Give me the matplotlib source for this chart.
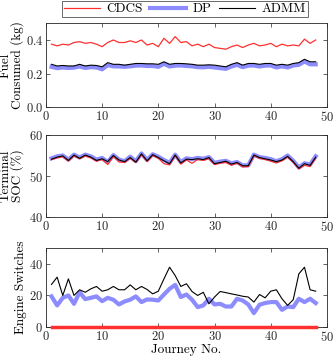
import matplotlib
matplotlib.use("Agg")
import matplotlib.pyplot as plt
import numpy as np

plt.rcParams['font.family'] = ['cmr10', 'DejaVu Serif']
plt.rcParams['mathtext.fontset'] = 'cm'
plt.rcParams['axes.formatter.use_mathtext'] = True
plt.rcParams['axes.unicode_minus'] = False

# journey numbers
journeys = np.arange(1, 49)

# fuel consumed (kg)
fuel_cdcs = [0.375, 0.365, 0.375, 0.37, 0.385, 0.39, 0.38, 0.385, 0.375, 0.36,
             0.385, 0.40, 0.385, 0.385, 0.395, 0.385, 0.40, 0.37, 0.38, 0.36,
             0.41, 0.38, 0.42, 0.385, 0.39, 0.365, 0.375, 0.36, 0.375, 0.355,
             0.35, 0.345, 0.36, 0.37, 0.355, 0.37, 0.38, 0.365, 0.37, 0.38,
             0.36, 0.375, 0.365, 0.37, 0.365, 0.405, 0.38, 0.40]
fuel_admm = [0.255, 0.245, 0.248, 0.245, 0.245, 0.255, 0.245, 0.25, 0.248, 0.24,
             0.265, 0.255, 0.255, 0.25, 0.255, 0.26, 0.26, 0.258, 0.258, 0.255,
             0.27, 0.255, 0.26, 0.26, 0.258, 0.255, 0.25, 0.25, 0.252, 0.25,
             0.245, 0.24, 0.255, 0.265, 0.25, 0.26, 0.26, 0.255, 0.26, 0.26,
             0.25, 0.255, 0.25, 0.26, 0.265, 0.285, 0.27, 0.27]
fuel_dp = [0.24, 0.232, 0.236, 0.233, 0.235, 0.242, 0.233, 0.238, 0.236, 0.225,
           0.25, 0.243, 0.242, 0.24, 0.243, 0.247, 0.248, 0.245, 0.245, 0.24,
           0.258, 0.242, 0.247, 0.248, 0.245, 0.243, 0.238, 0.237, 0.24, 0.236,
           0.232, 0.228, 0.242, 0.252, 0.238, 0.247, 0.248, 0.242, 0.247, 0.248,
           0.236, 0.243, 0.236, 0.248, 0.252, 0.272, 0.255, 0.255]

# terminal SOC (%)
soc_admm = [54.1, 54.6, 54.9, 53.8, 55.1, 54.3, 55.1, 54.6, 53.8, 54.2,
            53.5, 55.0, 53.9, 53.5, 54.5, 53.4, 55.4, 53.7, 55.2, 54.5,
            53.7, 53.0, 55.1, 53.2, 54.1, 54.0, 54.2, 54.0, 54.5, 53.0,
            53.3, 53.6, 52.9, 53.3, 52.5, 52.5, 55.1, 54.5, 54.2, 53.9,
            53.5, 53.9, 54.8, 53.5, 51.9, 53.0, 52.6, 54.6]
soc_cdcs = [54.0, 54.4, 54.7, 53.6, 54.9, 54.2, 54.9, 54.4, 53.6, 54.0,
            52.8, 54.8, 53.4, 53.3, 54.3, 53.3, 55.2, 53.5, 55.0, 54.3,
            53.0, 52.7, 55.0, 52.9, 53.9, 53.1, 54.0, 53.8, 54.2, 52.8,
            53.1, 53.3, 52.6, 53.1, 52.2, 52.3, 54.9, 54.3, 54.0, 53.6,
            53.2, 53.7, 54.6, 53.3, 51.7, 52.6, 52.3, 54.4]
soc_dp = [54.3, 54.8, 55.0, 54.0, 55.2, 54.5, 55.2, 54.8, 54.0, 54.4,
          53.4, 55.1, 54.0, 53.6, 54.7, 53.6, 55.5, 53.9, 55.3, 54.7,
          53.9, 53.2, 55.2, 53.4, 54.3, 54.1, 54.4, 54.2, 54.6, 53.2,
          53.5, 53.7, 53.1, 53.4, 52.6, 52.6, 55.2, 54.6, 54.4, 54.1,
          53.6, 54.1, 55.0, 53.7, 52.1, 53.1, 52.8, 54.8]

# engine switches
sw_cdcs = [0] * 48
sw_admm = [27, 31.6, 20, 30.5, 20, 23.6, 22, 24.2, 25.7, 22.7,
           23.6, 25.7, 23.6, 23.6, 26.7, 23.6, 25.7, 23.8, 21, 22.7,
           30.5, 37.9, 32.6, 25.7, 27.4, 22.5, 20, 22, 14.7, 19,
           22.5, 21.8, 21, 20.3, 19.5, 19, 15.8, 20.6, 18.5, 22.7,
           23.6, 17.9, 13.7, 17.3, 33.7, 37.9, 23.6, 22.7]
sw_dp = [19.4, 13.7, 18.5, 20, 14.7, 22, 17.7, 18.5, 19.4, 16.4,
         18.5, 17.3, 14.3, 16.2, 17.3, 19.4, 15.8, 17.5, 17.3, 16.8,
         20.6, 24.2, 26.7, 19, 20.6, 17.3, 12.6, 13.7, 17.9, 14.3,
         14.7, 13, 13, 17.9, 16.8, 14.3, 8.8, 14.1, 15.2, 15.8,
         15.8, 10.9, 13, 12.6, 17.9, 15.8, 17.9, 15.2]

red = '#ff3030'
blue = '#8c8cff'
fs = 9

fig = plt.figure(figsize=(3.35, 3.57), dpi=100)
ax1 = fig.add_axes([0.137, 0.700, 0.839, 0.235])
ax2 = fig.add_axes([0.137, 0.392, 0.839, 0.230])
ax3 = fig.add_axes([0.137, 0.084, 0.839, 0.221])

panels = [
    (ax1, fuel_cdcs, fuel_dp, fuel_admm, (0, 0.5), [0, 0.2, 0.4],
     'Fuel\nConsumed (kg)', -0.077),
    (ax2, soc_cdcs, soc_dp, soc_admm, (40, 60), [40, 50, 60],
     'Terminal\nSOC (%)', -0.077),
    (ax3, sw_cdcs, sw_dp, sw_admm, (0, 50), [0, 20, 40],
     'Engine Switches', -0.068),
]

for ax, c, d, a, ylim, yt, lab, lx in panels:
    ax.plot(journeys, d, color=blue, lw=3, label='DP', zorder=2)
    ax.plot(journeys, c, color=red, lw=0.9, label='CDCS', zorder=3,
            clip_on=(ax is not ax3))
    ax.plot(journeys, a, color='black', lw=0.8, label='ADMM', zorder=4)
    ax.set_xlim(0, 50)
    ax.set_ylim(*ylim)
    ax.set_xticks([0, 10, 20, 30, 40, 50])
    ax.set_yticks(yt)
    ax.set_ylabel(lab, fontsize=9.5, linespacing=0.85)
    ax.yaxis.set_label_coords(lx, 0.5)
    ax.tick_params(direction='in', top=True, right=True, labelsize=fs,
                   length=3, width=0.5, colors='#262626', pad=2)
    for s in ax.spines.values():
        s.set_linewidth(0.6)
        s.set_color('#262626')

ax3.lines[1].set_linewidth(2.5)
ax3.set_xlabel('Journey No.', fontsize=9.5, labelpad=0)

h, l = ax1.get_legend_handles_labels()
order = [1, 0, 2]
leg = ax1.legend([h[i] for i in order], [l[i] for i in order], ncol=3,
                 loc='lower center', bbox_to_anchor=(0.495, 1.07),
                 fontsize=9.5, frameon=True, fancybox=False, edgecolor='#262626',
                 handlelength=2.7, columnspacing=0.6, handletextpad=0.5,
                 borderpad=0.15, borderaxespad=0)
leg.get_frame().set_linewidth(0.6)

fig.savefig('out.png', dpi=100)
